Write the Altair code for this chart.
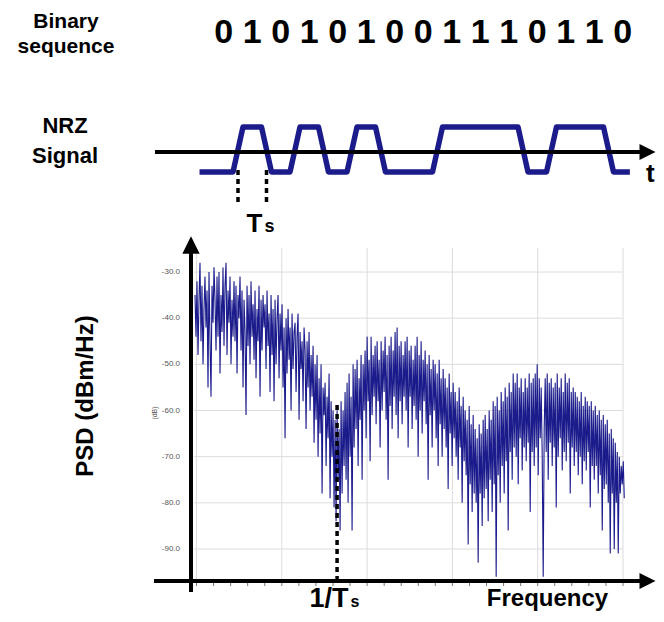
import altair as alt
import pandas as pd
import numpy as np

# ---------------- data ----------------
bits = [0, 1, 0, 1, 0, 1, 0, 0, 1, 1, 1, 0, 1, 1, 0]

# PSD trace (dB), evenly spaced over the frequency span
psd_db = [
    -35, -44, -32, -48, -36, -28, -45, -33, -50, -38,
    -31, -42, -34, -55, -30, -45, -57, -33, -41, -29,
    -36, -47, -31, -44, -30, -52, -35, -43, -29, -46,
    -33, -28, -48, -34, -41, -31, -50, -36, -44, -32,
    -45, -33, -52, -35, -40, -31, -47, -34, -55, -36,
    -43, -61, -33, -46, -35, -50, -32, -44, -37, -49,
    -34, -53, -38, -45, -33, -57, -36, -47, -35, -42,
    -37, -51, -34, -46, -39, -56, -35, -48, -38, -58,
    -36, -50, -40, -35, -53, -39, -47, -37, -55, -42,
    -66, -40, -52, -38, -49, -42, -60, -39, -51, -43,
    -41, -56, -44, -39, -62, -43, -51, -45, -58, -42,
    -47, -64, -45, -55, -43, -60, -48, -57, -46, -67,
    -50, -62, -48, -70, -53, -65, -50, -78, -55, -61,
    -54, -72, -57, -66, -52, -79, -58, -70, -60, -81,
    -62, -84, -60, -75, -64, -86, -58, -78, -60, -72,
    -56, -75, -54, -80, -52, -70, -57, -86, -50, -68,
    -51, -64, -49, -72, -53, -62, -48, -75, -50, -60,
    -47, -66, -44, -58, -49, -71, -44, -61, -48, -57,
    -46, -63, -45, -58, -49, -68, -45, -60, -47, -56,
    -44, -62, -48, -75, -46, -59, -44, -64, -47, -57,
    -43, -61, -42, -66, -46, -58, -45, -63, -48, -57,
    -45, -60, -44, -68, -47, -57, -46, -64, -49, -59,
    -46, -62, -44, -70, -48, -60, -45, -65, -49, -58,
    -47, -63, -50, -75, -48, -61, -51, -68, -49, -60,
    -50, -66, -52, -72, -49, -63, -53, -70, -51, -64,
    -53, -68, -55, -77, -52, -65, -56, -72, -54, -66,
    -56, -70, -58, -75, -55, -68, -59, -80, -57, -71,
    -60, -74, -62, -89, -59, -76, -63, -82, -61, -78,
    -64, -80, -66, -93, -63, -78, -65, -85, -62, -79,
    -61, -77, -64, -84, -60, -75, -62, -82, -58, -76,
    -59, -96, -57, -74, -60, -80, -56, -72, -58, -78,
    -55, -71, -57, -86, -54, -69, -56, -75, -52, -68,
    -54, -70, -52, -76, -55, -66, -53, -73, -56, -68,
    -53, -71, -55, -67, -52, -82, -54, -69, -53, -72,
    -52, -68, -50, -74, -53, -66, -55, -70, -96, -64,
    -53, -69, -52, -75, -54, -67, -53, -72, -55, -68,
    -54, -81, -52, -70, -55, -66, -53, -73, -56, -69,
    -52, -71, -54, -67, -53, -78, -56, -68, -55, -72,
    -56, -69, -57, -74, -58, -70, -56, -76, -59, -71,
    -57, -73, -58, -69, -59, -81, -58, -72, -60, -75,
    -59, -72, -61, -78, -60, -74, -62, -86, -61, -77,
    -63, -76, -62, -80, -65, -91, -64, -78, -66, -90,
    -67, -80, -69, -91, -70, -78, -72, -76, -71, -79,
]
psd_f_start, psd_f_end = -0.0176, 5.0147

grid_f = [0, 1, 2, 3, 4, 5]
minor_f = [round(v * 0.2, 1) for v in range(26)]
ytick_db = [-30, -40, -50, -60, -70, -80, -90]
ytick_labels = ["-30.0", "-40.0", "-50.0", "-60.0", "-70.0", "-80.0", "-90.0"]
one_over_ts = 1.648

# ---------------- helpers (styling / layout) ----------------
M = 8  # page margin


def P(v):
    return v - M


NAVY = "#1b1b8c"
FONT = "Liberation Sans"

FX = alt.Scale(domain=[0, 5], range=[P(196.5), P(623)], nice=False, zero=False)
FY = alt.Scale(domain=[-90, -30], range=[P(549), P(272)], nice=False, zero=False)
TX = alt.Scale(domain=[0, 15], range=[P(209.5), P(637)], nice=False, zero=False)
TY = alt.Scale(domain=[0, 1], range=[P(172), P(127)], nice=False, zero=False)

one = pd.DataFrame({"a": [0]})

# ---------------- PSD panel ----------------
psd_df = pd.DataFrame({
    "f": np.linspace(psd_f_start, psd_f_end, len(psd_db)),
    "db": psd_db,
})
hgrid = alt.Chart(pd.DataFrame({"db": ytick_db})).mark_rule(
    color="#dcdcdc", strokeWidth=1
).encode(
    y=alt.Y("db:Q", scale=FY, axis=None),
    x=alt.value(P(194)), x2=alt.value(P(623)),
)
vgrid = alt.Chart(pd.DataFrame({"f": grid_f})).mark_rule(
    color="#dcdcdc", strokeWidth=1
).encode(
    x=alt.X("f:Q", scale=FX, axis=None),
    y=alt.value(P(248)), y2=alt.value(P(581)),
)
minor = alt.Chart(pd.DataFrame({"f": minor_f})).mark_rule(
    color="#777777", strokeWidth=1
).encode(
    x=alt.X("f:Q", scale=FX, axis=None),
    y=alt.value(P(582)), y2=alt.value(P(586)),
)
ylab = alt.Chart(pd.DataFrame({"db": ytick_db, "lab": ytick_labels})).mark_text(
    align="right", baseline="middle", fontSize=8, color="#555555", font=FONT
).encode(
    y=alt.Y("db:Q", scale=FY, axis=None),
    x=alt.value(P(180)),
    text="lab:N",
)
trace = alt.Chart(psd_df).mark_line(color=NAVY, strokeWidth=1.1).encode(
    x=alt.X("f:Q", scale=FX, axis=None),
    y=alt.Y("db:Q", scale=FY, axis=None),
)
ts_line = alt.Chart(pd.DataFrame({"f": [one_over_ts]})).mark_rule(
    color="black", strokeWidth=3.5, strokeDash=[5, 4]
).encode(
    x=alt.X("f:Q", scale=FX, axis=None),
    y=alt.value(P(405)), y2=alt.value(P(581)),
)
psd_layer = alt.layer(hgrid, vgrid, minor, ylab, trace, ts_line)

# ---------------- NRZ panel ----------------
rise = 0.35
pts_t = [-0.35]
pts_v = [bits[0]]
for k in range(1, len(bits)):
    if bits[k] != bits[k - 1]:
        pts_t += [k - rise / 2, k + rise / 2]
        pts_v += [bits[k - 1], bits[k]]
pts_t.append(14.75)
pts_v.append(bits[-1])
nrz_df = pd.DataFrame({"t": pts_t, "v": pts_v, "o": range(len(pts_t))})

nrz = alt.Chart(nrz_df).mark_line(
    color=NAVY, strokeWidth=5.5, strokeJoin="round"
).encode(
    x=alt.X("t:Q", scale=TX, axis=None),
    y=alt.Y("v:Q", scale=TY, axis=None),
    order="o:Q",
)
digits = alt.Chart(pd.DataFrame({
    "t": [k + 0.5 for k in range(len(bits))],
    "b": [str(b) for b in bits],
})).mark_text(
    fontSize=34, fontWeight="bold", font=FONT, baseline="alphabetic", align="center"
).encode(
    x=alt.X("t:Q", scale=TX, axis=None),
    y=alt.value(P(43)),
    text="b:N",
)
ts_marks = alt.Chart(pd.DataFrame({"t": [1, 2]})).mark_rule(
    color="black", strokeWidth=3.5, strokeDash=[5, 4]
).encode(
    x=alt.X("t:Q", scale=TX, axis=None),
    y=alt.value(P(170)), y2=alt.value(P(205)),
)
nrz_layer = alt.layer(nrz, digits, ts_marks)


# ---------------- decorations ----------------
def rule(x1, x2, y1, y2, w=4):
    return alt.Chart(one).mark_rule(color="black", strokeWidth=w).encode(
        x=alt.value(P(x1)), x2=alt.value(P(x2)),
        y=alt.value(P(y1)), y2=alt.value(P(y2)),
    )


def head(x, y, path, size):
    return alt.Chart(one).mark_point(
        shape=path, filled=True, color="black", size=size, opacity=1, strokeWidth=0
    ).encode(x=alt.value(P(x)), y=alt.value(P(y)))


def label(txt, x, y, size, align="center", angle=0, weight="bold",
          color="black", baseline="alphabetic"):
    return alt.Chart(one).mark_text(
        text=txt, fontSize=size, fontWeight=weight, font=FONT, align=align,
        angle=angle, color=color, baseline=baseline
    ).encode(x=alt.value(P(x)), y=alt.value(P(y)))


RIGHT = "M-1,-1L1,0L-1,1Z"
UP = "M-1,1L0,-1L1,1Z"

decor = [
    rule(155, 642, 152, 152),            # time axis
    head(647.5, 152, RIGHT, 256),
    rule(191, 191, 250, 592),            # PSD y axis
    head(191, 245, UP, 300),
    rule(154, 640, 581, 581),            # PSD x axis
    head(647.5, 581, RIGHT, 256),
    label("Binary", 66, 28, 21),
    label("sequence", 66, 53, 21),
    label("NRZ", 65, 133, 22),
    label("Signal", 65, 163, 22),
    label("t", 646, 182, 26, align="left"),
    label("T", 254.5, 232, 26),
    label("s", 269.5, 232, 18),
    label("PSD (dBm/Hz)", 86, 396, 24, angle=270, baseline="middle"),
    label("(dB)", 155, 413, 7, angle=270, weight="normal", color="#555555",
          baseline="middle"),
    label("1/T", 329, 607, 27),
    label("s", 355, 607, 16),
    label("Frequency", 547.5, 606, 24),
]

chart = alt.layer(psd_layer, nrz_layer, *decor).resolve_scale(
    x="independent", y="independent"
).properties(
    width=648, height=606, padding=0, autosize=alt.AutoSizeParams(type="none")
).configure_view(stroke=None)

chart.save("out.html", embed_options={"renderer": "svg", "actions": False})
